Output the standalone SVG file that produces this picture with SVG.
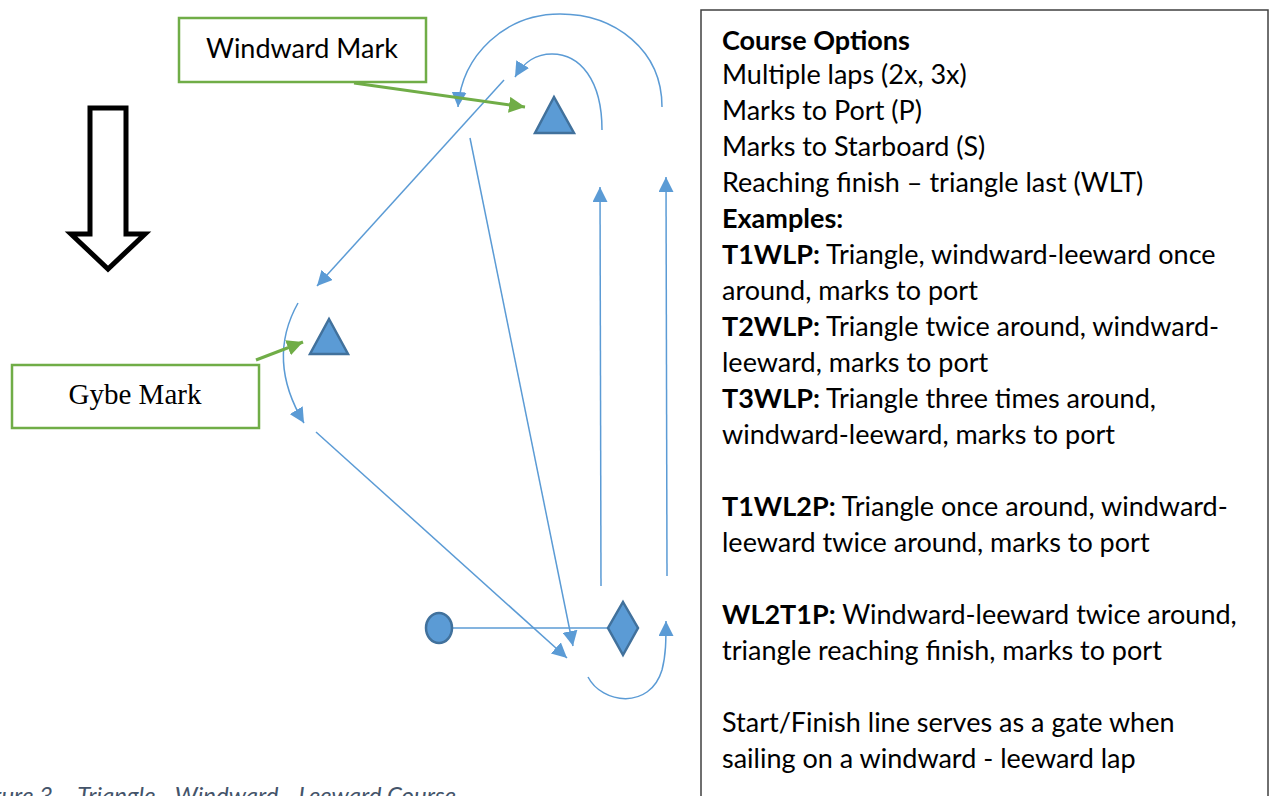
<svg xmlns="http://www.w3.org/2000/svg" width="1274" height="796" viewBox="0 0 1274 796">
<defs>
<style>
.conn{fill:none;stroke:#5B9BD5;stroke-width:1.5}
.gconn{fill:none;stroke:#70AD47;stroke-width:3}
.mark{fill:#5B9BD5;stroke:#41719C;stroke-width:2.5}
.lbl{fill:#fff;stroke:#70AD47;stroke-width:2.5}
.t{font-family:Lato,"Open Sans",sans-serif;font-size:27px;fill:#000}
.b{font-weight:bold}
</style>
<marker id="ab" viewBox="0 0 10 10" refX="10" refY="5" markerWidth="15" markerHeight="15" markerUnits="userSpaceOnUse" orient="auto">
<path d="M0,0 L10,5 L0,10 Z" fill="#5B9BD5"/>
</marker>
<marker id="ag" viewBox="0 0 10 10" refX="10" refY="5" markerWidth="16" markerHeight="16" markerUnits="userSpaceOnUse" orient="auto">
<path d="M0,0 L10,5 L0,10 Z" fill="#70AD47"/>
</marker>
</defs>
<rect width="1274" height="796" fill="#fff"/>

<g id="connectors">
<path class="conn" d="M504,80 L317,286" marker-end="url(#ab)"/>
<path class="conn" d="M470,138 L573,646" marker-end="url(#ab)"/>
<path class="conn" d="M316,432 L567,658" marker-end="url(#ab)"/>
<path class="conn" d="M601,586 L600,187" marker-end="url(#ab)"/>
<path class="conn" d="M667,576 L666,177" marker-end="url(#ab)"/>
<path class="conn" d="M452,628 L608,628"/>
<path class="conn" d="M588,677 C602,704 650,710 662,670 C666,655 666,640 666,621" marker-end="url(#ab)"/>
<path class="conn" d="M602,130 C602,80 580,54 552,54 C535,54 524,62 515,77" marker-end="url(#ab)"/>
<path class="conn" d="M662,107 C662,50 615,14 560,14 C505,14 462,55 458,107" marker-end="url(#ab)"/>
<path class="conn" d="M298,303 Q266,360 304,423" marker-end="url(#ab)"/>
<path class="gconn" d="M354,83 L525,107" marker-end="url(#ag)"/>
<path class="gconn" d="M256,360 L303,342" marker-end="url(#ag)"/>
</g>

<g id="wind-arrow">
<path d="M90,108 H126 V234 H145 L108,269 L71,234 H90 Z" fill="#fff" stroke="#000" stroke-width="5"/>
</g>

<g id="windward-label">
<rect class="lbl" x="179" y="18" width="247" height="64"/>
<text class="t" x="302" y="58" text-anchor="middle">Windward Mark</text>
</g>

<g id="gybe-label">
<rect class="lbl" x="12" y="365" width="247" height="63"/>
<text x="135" y="404" text-anchor="middle" font-family="Liberation Serif, serif" font-size="29">Gybe Mark</text>
</g>

<g id="windward-mark">
<polygon class="mark" points="554,97 535,133 574,133"/>
</g>
<g id="gybe-mark">
<polygon class="mark" points="329,319 310,354 348,354"/>
</g>
<g id="start-pin">
<ellipse class="mark" cx="439" cy="628" rx="13" ry="15"/>
</g>
<g id="committee-boat">
<polygon class="mark" points="623,602 638,628 623,655 608,628"/>
</g>

<g id="options-box">
<rect x="701" y="10" width="567" height="800" fill="#fff" stroke="#404040" stroke-width="1.5"/>
<text class="t" x="722">
<tspan class="b" x="722" y="50">Course Options</tspan>
<tspan x="722" y="84">Multiple laps (2x, 3x)</tspan>
<tspan x="722" y="120">Marks to Port (P)</tspan>
<tspan x="722" y="156">Marks to Starboard (S)</tspan>
<tspan x="722" y="192">Reaching finish – triangle last (WLT)</tspan>
<tspan class="b" x="722" y="228">Examples:</tspan>
<tspan class="b" x="722" y="264">T1WLP:</tspan><tspan> Triangle, windward-leeward once</tspan>
<tspan x="722" y="300">around, marks to port</tspan>
<tspan class="b" x="722" y="336">T2WLP:</tspan><tspan> Triangle twice around, windward-</tspan>
<tspan x="722" y="372">leeward, marks to port</tspan>
<tspan class="b" x="722" y="408">T3WLP:</tspan><tspan> Triangle three times around,</tspan>
<tspan x="722" y="444">windward-leeward, marks to port</tspan>
<tspan class="b" x="722" y="516">T1WL2P:</tspan><tspan> Triangle once around, windward-</tspan>
<tspan x="722" y="552">leeward twice around, marks to port</tspan>
<tspan class="b" x="722" y="624">WL2T1P:</tspan><tspan> Windward-leeward twice around,</tspan>
<tspan x="722" y="660">triangle reaching finish, marks to port</tspan>
<tspan x="722" y="732">Start/Finish line serves as a gate when</tspan>
<tspan x="722" y="768">sailing on a windward - leeward lap</tspan>
</text>
</g>

<g id="caption">
<text x="456" y="804" text-anchor="end" font-family="Lato, sans-serif" font-style="italic" font-size="24" fill="#44546A">Figure 3 – Triangle - Windward - Leeward Course</text>
</g>
</svg>
